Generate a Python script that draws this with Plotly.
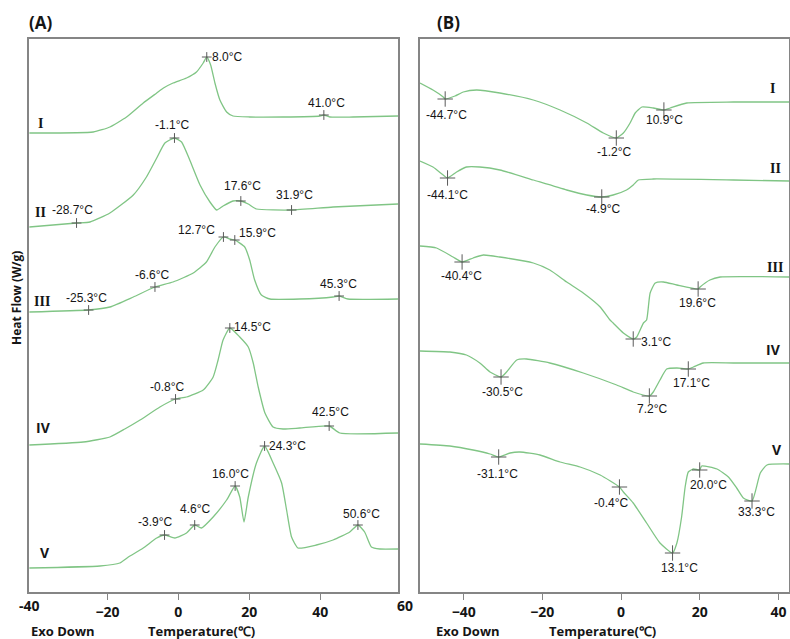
import numpy as np
import plotly.graph_objects as go

# ---------------- Panel A (heating) ----------------
A_I_T = [-42.0, -24.0, -19.3, -14.6, -9.9, -6.1, -4.2, -1.5, 2.3, 5.1, 7.0, 8.0, 9.1, 10.3, 11.7, 13.6, 15.4, 20.1, 29.5, 39.9, 41.0, 42.7, 49.2, 61.9]
A_I_HF = [4.59, 4.60, 4.65, 4.75, 4.89, 4.99, 5.04, 5.09, 5.14, 5.20, 5.29, 5.35, 5.27, 5.09, 4.92, 4.80, 4.76, 4.75, 4.75, 4.76, 4.77, 4.75, 4.75, 4.76]
A_I_PK = [8.0, 41.0]

A_II_T = [-42.0, -28.7, -24.9, -19.3, -12.7, -9.0, -6.1, -3.8, -1.1, 0.9, 3.2, 6.1, 8.9, 10.8, 12.6, 15.4, 17.6, 19.7, 22.0, 31.9, 43.6, 61.9]
A_II_HF = [3.65, 3.69, 3.70, 3.79, 3.97, 4.15, 4.34, 4.49, 4.54, 4.50, 4.32, 4.07, 3.90, 3.82, 3.86, 3.91, 3.91, 3.88, 3.83, 3.82, 3.85, 3.88]
A_II_PK = [-28.7, -1.1, 17.6, 31.9]

A_III_T = [-42.0, -25.3, -19.3, -12.7, -6.6, -1.5, 4.2, 7.9, 10.3, 12.7, 14.5, 15.9, 18.7, 20.1, 21.5, 23.4, 25.8, 34.2, 43.6, 45.3, 47.8, 61.9]
A_III_HF = [2.80, 2.82, 2.85, 2.95, 3.05, 3.10, 3.19, 3.30, 3.45, 3.55, 3.53, 3.52, 3.45, 3.32, 3.12, 2.97, 2.93, 2.93, 2.95, 2.96, 2.93, 2.93]
A_III_PK = [-25.3, -6.6, 12.7, 15.9, 45.3]

A_IV_T = [-42.0, -26.8, -19.3, -15.1, -10.8, -5.2, -0.8, 2.3, 7.0, 9.8, 11.2, 12.6, 14.5, 17.3, 19.7, 21.1, 22.5, 24.4, 26.7, 29.5, 34.2, 42.5, 45.5, 61.9]
A_IV_HF = [1.47, 1.50, 1.55, 1.63, 1.72, 1.85, 1.93, 1.95, 2.02, 2.15, 2.32, 2.52, 2.64, 2.55, 2.45, 2.29, 2.05, 1.79, 1.65, 1.63, 1.64, 1.66, 1.59, 1.59]
A_IV_PK = [-0.8, 14.5, 42.5]

A_V_T = [-42.0, -22.1, -16.5, -14.1, -9.9, -6.1, -3.9, -1.0, 2.3, 4.6, 6.5, 9.8, 13.6, 16.0, 17.3, 18.5, 19.7, 22.0, 24.3, 26.7, 29.1, 30.5, 31.9, 33.7, 38.9, 43.6, 48.3, 50.6, 52.5, 54.4, 56.8, 61.9]
A_V_HF = [0.24, 0.26, 0.29, 0.35, 0.44, 0.54, 0.57, 0.54, 0.59, 0.67, 0.64, 0.75, 0.92, 1.06, 0.95, 0.70, 0.95, 1.29, 1.46, 1.29, 1.09, 0.82, 0.55, 0.44, 0.47, 0.52, 0.60, 0.67, 0.60, 0.45, 0.43, 0.43]
A_V_PK = [-3.9, 4.6, 16.0, 24.3, 50.6]

# ---------------- Panel B (cooling) ----------------
B_I_T = [-51.1, -47.8, -45.2, -44.7, -42.2, -40.1, -36.7, -30.8, -22.3, -15.5, -8.7, -4.5, -1.2, 0.6, 2.3, 3.6, 5.3, 8.2, 10.9, 12.5, 16.7, 28.6, 42.7]
B_I_HF = [5.09, 5.02, 4.95, 4.93, 4.96, 5.00, 5.02, 4.99, 4.92, 4.82, 4.69, 4.59, 4.54, 4.59, 4.69, 4.79, 4.85, 4.84, 4.82, 4.84, 4.89, 4.90, 4.90]
B_I_PK = [-44.7, -1.2, 10.9]

B_II_T = [-51.1, -47.8, -45.2, -44.1, -41.8, -39.3, -35.9, -30.8, -22.3, -13.8, -8.7, -4.9, -2.0, 1.4, 3.1, 4.4, 8.2, 28.6, 42.7]
B_II_HF = [4.31, 4.25, 4.17, 4.14, 4.20, 4.25, 4.25, 4.22, 4.12, 4.02, 3.97, 3.95, 3.97, 4.02, 4.07, 4.12, 4.13, 4.12, 4.11]
B_II_PK = [-44.1, -4.9]

B_III_T = [-51.1, -46.9, -42.7, -40.4, -37.6, -35.0, -30.8, -22.3, -18.1, -13.8, -9.6, -5.3, -2.8, -2.0, 0.6, 3.1, 4.0, 5.7, 6.5, 7.4, 8.7, 10.8, 14.2, 19.6, 20.1, 22.6, 25.2, 42.7]
B_III_HF = [3.46, 3.44, 3.35, 3.30, 3.34, 3.37, 3.35, 3.29, 3.22, 3.10, 2.99, 2.85, 2.72, 2.69, 2.59, 2.53, 2.55, 2.69, 2.72, 2.99, 3.09, 3.10, 3.07, 3.03, 3.05, 3.12, 3.15, 3.15]
B_III_PK = [-40.4, 3.1, 19.6]

B_IV_T = [-51.1, -43.5, -39.3, -35.9, -33.3, -30.5, -29.1, -26.5, -24.0, -18.1, -9.6, -1.1, 3.1, 7.2, 8.2, 9.9, 11.6, 14.2, 17.1, 18.4, 20.9, 28.6, 42.7]
B_IV_HF = [2.41, 2.40, 2.37, 2.29, 2.20, 2.15, 2.20, 2.32, 2.33, 2.29, 2.19, 2.07, 2.00, 1.96, 2.00, 2.12, 2.23, 2.24, 2.23, 2.25, 2.29, 2.29, 2.29]
B_IV_PK = [-30.5, 7.2, 17.1]

B_V_T = [-51.1, -43.5, -37.6, -33.3, -31.1, -28.2, -25.7, -20.6, -15.5, -10.4, -5.3, -0.4, 0.6, 3.1, 6.5, 9.9, 13.1, 14.2, 15.4, 16.3, 17.1, 18.4, 20.0, 20.5, 24.4, 27.3, 29.4, 31.1, 33.3, 35.4, 37.1, 42.7]
B_V_HF = [1.48, 1.46, 1.42, 1.38, 1.35, 1.39, 1.40, 1.37, 1.30, 1.25, 1.17, 1.05, 1.00, 0.89, 0.69, 0.49, 0.39, 0.49, 0.75, 1.05, 1.20, 1.23, 1.22, 1.26, 1.23, 1.15, 1.04, 0.94, 0.91, 1.19, 1.27, 1.28]
B_V_PK = [-31.1, -0.4, 13.1, 20.0, 33.3]

SAMPLES = ["I", "II", "III", "IV", "V"]
X_TICKS_A = [-20, 0, 20, 40]
X_TICKS_B = [-40, -20, 0, 20, 40]

# ---------------- styles ----------------
W, H = 790, 639
LINE_COLOR = "#80c585"
FRAME = "#858585"
TXT = "#151515"
LBL_FONT = dict(family="Liberation Sans", size=12, color=TXT)
BOLD = dict(family="Open Sans", size=14, color=TXT, weight="bold")

# label offsets (px right, px down) per marker
A_OFF = [
    [(20, 0), (3, -12)],
    [(-4, -13), (-2, -13), (2, -15), (3, -15)],
    [(-2, -12), (-3, -12), (-27, -7), (23, -7), (-1, -12)],
    [(-9, -12), (23, -1), (1, -14)],
    [(-10, -13), (0, -16), (-5, -12), (23, 0), (4, -11)],
]
B_OFF = [
    [(1, 16), (-2, 14), (1, 10)],
    [(0, 17), (1, 12)],
    [(-1, 14), (23, 3), (-1, 14)],
    [(1, 15), (3, 13), (3, 14)],
    [(-1, 17), (-8, 16), (7, 15), (9, 15), (4, 11)],
]
A_NAME_POS = [(40, 123), (40, 212), (42, 302), (43, 427), (45, 552)]
B_NAME_POS = [(772, 88), (775, 168), (775, 267), (773, 349), (777, 449)]

A_CURVES = [(A_I_T, A_I_HF, A_I_PK), (A_II_T, A_II_HF, A_II_PK), (A_III_T, A_III_HF, A_III_PK),
            (A_IV_T, A_IV_HF, A_IV_PK), (A_V_T, A_V_HF, A_V_PK)]
B_CURVES = [(B_I_T, B_I_HF, B_I_PK), (B_II_T, B_II_HF, B_II_PK), (B_III_T, B_III_HF, B_III_PK),
            (B_IV_T, B_IV_HF, B_IV_PK), (B_V_T, B_V_HF, B_V_PK)]

fig = go.Figure()
annotations = []


def px(x):
    return x / W


def py(y):
    return 1 - y / H


def paper_text(txt, x, y, font, **kw):
    d = dict(x=px(x), y=py(y), xref="paper", yref="paper", text=txt, showarrow=False,
             xanchor="center", yanchor="middle", font=font)
    d.update(kw)
    annotations.append(d)


def add_panel(curves, offsets, names_pos, xa, ya, msize):
    for i, (t, hf, pk) in enumerate(curves):
        fig.add_trace(go.Scatter(x=t, y=hf, mode="lines", xaxis=xa, yaxis=ya,
                                 line=dict(color=LINE_COLOR, width=1.3, shape="spline", smoothing=0.5),
                                 hoverinfo="skip", showlegend=False))
        my = np.interp(pk, t, hf)
        fig.add_trace(go.Scatter(x=pk, y=my, mode="markers", xaxis=xa, yaxis=ya,
                                 marker=dict(symbol="cross-thin", size=msize,
                                             line=dict(width=1, color="#5a5a5a")),
                                 hoverinfo="skip", showlegend=False))
        for (tt, yy), (dx, dy) in zip(zip(pk, my), offsets[i]):
            annotations.append(dict(x=tt, y=yy, xref=xa, yref=ya, text=f"{tt:.1f}°C",
                                    showarrow=False, xanchor="center", yanchor="middle",
                                    xshift=dx, yshift=-dy, font=LBL_FONT))
        name = SAMPLES[i]
        fam = "Liberation Serif" if name in ("I", "II", "III") else "Open Sans"
        nx, ny = names_pos[i]
        paper_text(name, nx, ny, dict(family=fam, size=14, color=TXT, weight="bold"))


add_panel(A_CURVES, A_OFF, A_NAME_POS, "x", "y", 7)
add_panel(B_CURVES, B_OFF, B_NAME_POS, "x2", "y2", 11)

# extra axis text
paper_text("-40", 29, 605, BOLD)
paper_text("60", 405, 605, BOLD)
for cx in (63, 468):
    paper_text("Exo Down", cx, 631, dict(BOLD, size=13))
for cx in (202, 602):
    paper_text("Temperature(℃)", cx, 631, dict(BOLD, size=13))
paper_text("(A)", 40, 22, dict(BOLD, size=17))
paper_text("(B)", 448, 22, dict(BOLD, size=17))
paper_text("Heat Flow (W/g)", 16, 298, dict(BOLD, size=12), textangle=-90)

ydom = [py(592), py(39)]
axis_common = dict(showline=True, mirror=True, linecolor=FRAME, linewidth=1.5, showgrid=False,
                   zeroline=False, ticks="outside", ticklen=6, tickcolor=FRAME, tickfont=BOLD)
fig.update_layout(
    width=W, height=H, margin=dict(l=0, r=0, t=0, b=0),
    paper_bgcolor="white", plot_bgcolor="white", showlegend=False,
    xaxis=dict(axis_common, domain=[px(29), px(398)], range=[-42.1, 61.9], tickvals=X_TICKS_A, anchor="y"),
    yaxis=dict(axis_common, domain=ydom, range=[0, 5.53], showticklabels=False, ticks="", anchor="x"),
    xaxis2=dict(axis_common, domain=[px(420), px(789)], range=[-51.1, 42.7], tickvals=X_TICKS_B, anchor="y2"),
    yaxis2=dict(axis_common, domain=ydom, range=[0, 5.53], showticklabels=False, ticks="", anchor="x2"),
    annotations=annotations,
)

fig.write_html("out.html", config={"displayModeBar": False},
               post_script="document.body.style.margin='0';document.body.style.overflow='hidden';")
